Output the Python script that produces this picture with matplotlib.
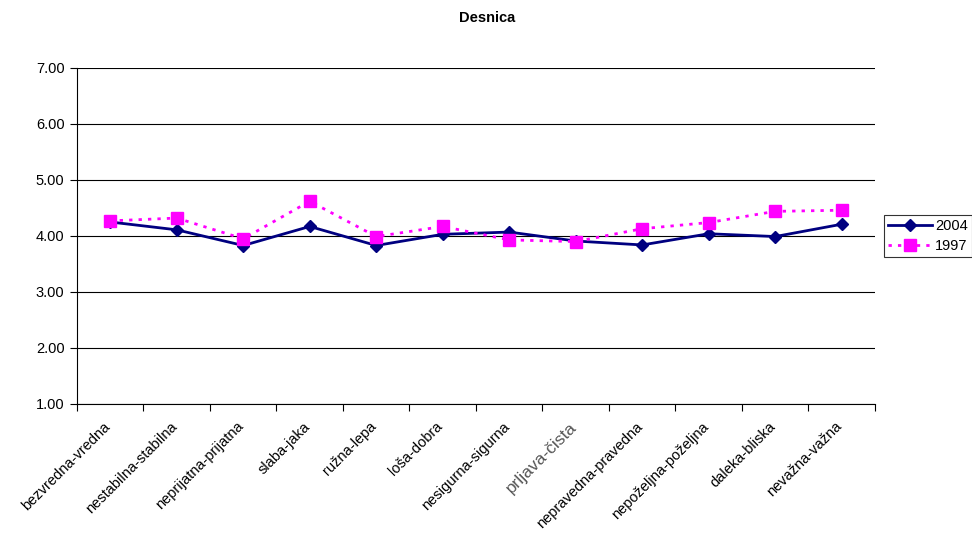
import matplotlib.pyplot as plt
import matplotlib.transforms as mtransforms

plt.rcParams['font.family'] = ['Liberation Sans', 'DejaVu Sans']

categories = ['bezvredna-vredna', 'nestabilna-stabilna', 'neprijatna-prijatna',
              'slaba-jaka', 'ružna-lepa', 'loša-dobra', 'nesigurna-sigurna',
              'prljava-čista', 'nepravedna-pravedna', 'nepoželjna-poželjna',
              'daleka-bliska', 'nevažna-važna']
y2004 = [4.25, 4.11, 3.83, 4.17, 3.83, 4.03, 4.07, 3.91, 3.84, 4.04, 3.99, 4.21]
y1997 = [4.27, 4.32, 3.95, 4.62, 3.99, 4.17, 3.93, 3.90, 4.13, 4.24, 4.44, 4.46]
yticks = [1, 2, 3, 4, 5, 6, 7]

fig = plt.figure(figsize=(9.72, 5.37), dpi=100)
ax = fig.add_axes([0.0792, 0.2477, 0.8210, 0.6257])

x = list(range(len(categories)))
ax.plot(x, y2004, color='#000080', lw=2, marker='D', ms=6, label='2004', zorder=3)
ax.plot(x, y1997, color='#FF00FF', lw=2, ls=(0, (1.2, 2.2)), marker='s', ms=8,
        label='1997', zorder=3)

ax.set_xlim(-0.5, len(categories) - 0.5)
ax.set_ylim(1, 7)
ax.set_yticks(yticks)
ax.set_yticklabels(['%.2f' % v for v in yticks], fontsize=10.5)
ax.yaxis.grid(True, color='black', lw=0.8)
ax.set_axisbelow(True)

ax.set_xticks([i - 0.5 for i in range(len(categories) + 1)], minor=False)
ax.set_xticklabels([])
ax.set_xticks(x, minor=True)
ax.set_xticklabels(categories, minor=True, rotation=45, ha='right',
                   rotation_mode='anchor', fontsize=10.5)
ax.tick_params(axis='x', which='minor', length=0, pad=11)
ax.tick_params(axis='x', which='major', length=5, color='black')
ax.tick_params(axis='y', length=5, pad=4)
shift = mtransforms.ScaledTranslation(-0.07, 0, fig.dpi_scale_trans)
for lbl in ax.get_xticklabels(minor=True):
    lbl.set_transform(lbl.get_transform() + shift)
    if lbl.get_text() == 'prljava-čista':
        lbl.set_color('#555555')
        lbl.set_fontsize(12.5)

for s in ['top', 'right']:
    ax.spines[s].set_visible(False)

fig.text(0.501, 1 - 18 / 537, 'Desnica', fontsize=10.5, fontweight='bold',
         ha='center', va='center')

leg = ax.legend(loc='center left', bbox_to_anchor=(1.011, 0.5), fontsize=10.5,
                frameon=True, fancybox=False, edgecolor='black',
                borderpad=0.3, handlelength=3, labelspacing=0.4,
                handletextpad=0.2, borderaxespad=0)
leg.get_frame().set_linewidth(0.8)

fig.savefig('out.png', dpi=100)
